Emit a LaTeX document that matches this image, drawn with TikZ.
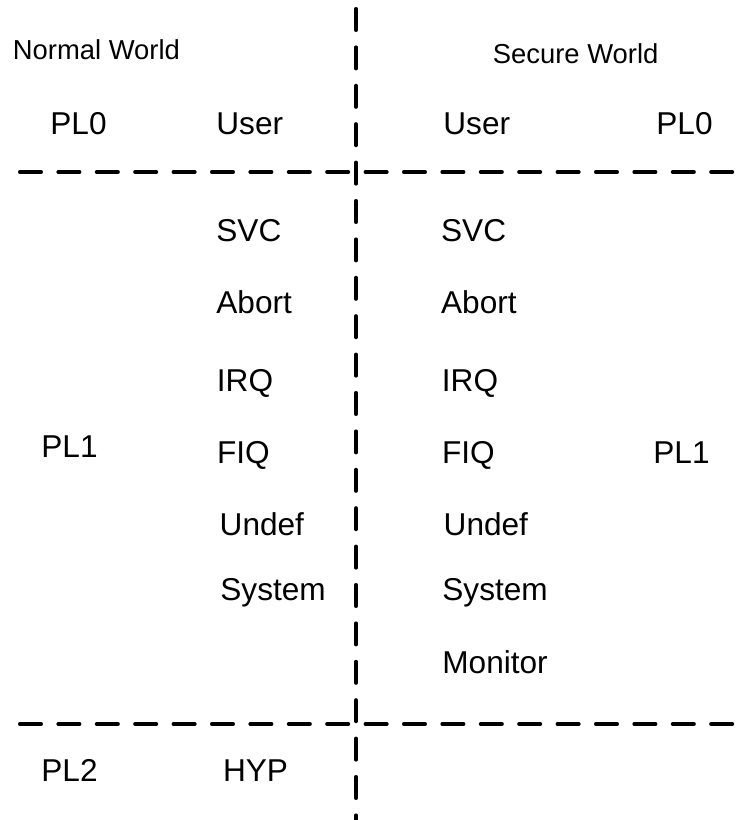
\documentclass[tikz,border=0pt]{standalone}
\usepackage{fontspec}
\setmainfont{Liberation Sans}
\usepackage{tikz}
\usetikzlibrary{positioning}

\begin{document}
\begin{tikzpicture}[x=0.5pt, y=-0.5pt,
        lbl/.style={anchor=base west, inner sep=0pt, font=\fontsize{15.8}{18}\selectfont},
        hdr/.style={anchor=base west, inner sep=0pt, font=\fontsize{13.7}{16}\selectfont},
        divider/.style={line width=1.8pt, line cap=round, dash pattern=on 10.7pt off 8.5pt}]
        \useasboundingbox (0,0) rectangle (737,820);

        % world split and privilege levels
        \coordinate (vtop) at (356,8.8);
        \coordinate (vbot) at (356,822);
        \coordinate (h1l) at (19.8,172);
        \coordinate (h1r) at (740,172);
        \coordinate (h2l) at (19.8,724);
        \coordinate (h2r) at (740,724);
        \draw[divider] (vtop) -- (vbot);
        \draw[divider] (h1l) -- (h1r);
        \draw[divider] (h2l) -- (h2r);

        \node[hdr] (nworld) at (12.5,59.3) {Normal World};
        \node[hdr] (sworld) at (492.5,63.3) {Secure World};

        \node[lbl] (pl0n) at (50,134) {PL0};
        \node[lbl] (usrn) at (216,134) {User};
        \node[lbl] (usrs) at (443,134) {User};
        \node[lbl] (pl0s) at (656,134) {PL0};

        \node[lbl] (svcn) at (216,241.7) {SVC};
        \node[lbl] (abtn) at (216,313.3) {Abort};
        \node[lbl] (irqn) at (216.5,391.7) {IRQ};
        \node[lbl] (fiqn) at (216.7,463.3) {FIQ};
        \node[lbl] (undn) at (219.3,535) {Undef};
        \node[lbl] (sysn) at (220,600.7) {System};

        \node[lbl] (svcs) at (440.7,241.7) {SVC};
        \node[lbl] (abts) at (440.7,313.3) {Abort};
        \node[lbl] (irqs) at (441.5,391.7) {IRQ};
        \node[lbl] (fiqs) at (441.7,463.3) {FIQ};
        \node[lbl] (unds) at (443.3,535) {Undef};
        \node[lbl] (syss) at (442,600.7) {System};
        \node[lbl] (mons) at (442,673.3) {Monitor};

        \node[lbl] (pl1n) at (41,457.3) {PL1};
        \node[lbl] (pl1s) at (653,463) {PL1};

        \node[lbl] (pl2n) at (41,781.7) {PL2};
        \node[lbl] (hypn) at (222.7,781.7) {HYP};
    \end{tikzpicture}
\end{document}
